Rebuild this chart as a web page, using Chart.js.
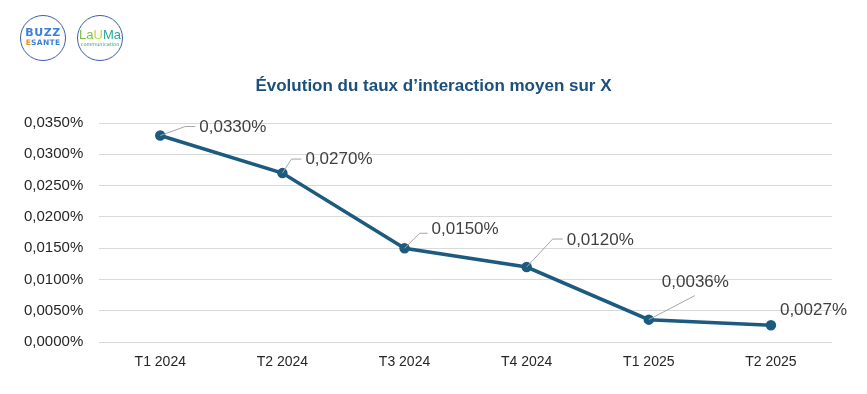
<!DOCTYPE html>
<html>
<head>
<meta charset="utf-8">
<script src="https://cdn.jsdelivr.net/npm/chart.js@4.4.0/dist/chart.umd.min.js"></script>
<style>
  html, body { margin: 0; padding: 0; background: #fff; }
  #wrap { position: relative; width: 867px; height: 394px; }
  canvas { position: absolute; left: 0; top: 0; }
  #titre {
    position: absolute; left: 0; width: 867px; top: 76px; text-align: center;
    font: bold 17px "Liberation Sans", Arial, sans-serif; color: #1b4f7c;
  }
  .logo {
    position: absolute; top: 15px; width: 44px; height: 44px;
    border: 1.5px solid #3b5ea8; border-radius: 50%;
    font-family: "DejaVu Sans", sans-serif; text-align: center; background: #fff;
  }
  .buzz { left: 20px; color: #3c7fd6; font-weight: bold; font-size: 11px; line-height: 11px; }
  .buzz .t1 { margin-top: 11px; letter-spacing: 0.5px; }
  .buzz .t2 { font-size: 7.5px; line-height: 9px; letter-spacing: 0.3px; }
  .buzz .t2 span { color: #f08a24; }
  .lauma { left: 77px; }
  .lauma .t1 { margin-top: 13px; font-size: 13px; line-height: 12px; font-family: "Liberation Sans", sans-serif; }
  .lauma .t2 { font-size: 5px; line-height: 6px; color: #3a9a8a; }
</style>
</head>
<body>
<div id="wrap">
  <canvas id="chart" width="867" height="394"></canvas>
  <div id="titre">Évolution du taux d’interaction moyen sur X</div>
  <div class="logo buzz"><div class="t1">BUZZ</div><div class="t2"><span>E</span>SANTE</div></div>
  <div class="logo lauma"><div class="t1"><span style="color:#7cc242">La</span><span style="color:#c4d82e">U</span><span style="color:#2ba5a0">Ma</span></div><div class="t2">communication</div></div>
</div>
<script>
// Données
const categories = ["T1 2024", "T2 2024", "T3 2024", "T4 2024", "T1 2025", "T2 2025"];
const tauxInteraction = [0.0330, 0.0270, 0.0150, 0.0120, 0.0036, 0.0027];
const yTicks = [0, 0.005, 0.010, 0.015, 0.020, 0.025, 0.030, 0.035];

// Placement des étiquettes (décalage du texte et du coude de la ligne de rappel)
const labelOffsets = [[39, -8], [23, -14], [27, -19], [40, -27], [13, -37], [9, -15]];
const leaderElbows = [[25, -9], [9, -14], [15, -15], [26, -28], [46, -24], null];

const fmt = v => v.toFixed(4).replace(".", ",") + "%";

const labelPlugin = {
  id: "labels",
  afterDatasetsDraw(chart) {
    const ctx = chart.ctx;
    const meta = chart.getDatasetMeta(0);
    ctx.save();
    ctx.font = "17px 'Liberation Sans', Arial, sans-serif";
    ctx.fillStyle = "#404040";
    ctx.textBaseline = "middle";
    meta.data.forEach((pt, i) => {
      const [dx, dy] = labelOffsets[i];
      const lx = pt.x + dx, ly = pt.y + dy;
      const elbow = leaderElbows[i];
      if (elbow) {
        ctx.strokeStyle = "#a6a6a6";
        ctx.lineWidth = 1;
        ctx.beginPath();
        ctx.moveTo(pt.x, pt.y);
        ctx.lineTo(pt.x + elbow[0], pt.y + elbow[1]);
        if (i !== 4) ctx.lineTo(lx - 4, pt.y + elbow[1]);
        ctx.stroke();
      }
      ctx.fillText(fmt(tauxInteraction[i]), lx, ly);
    });
    ctx.restore();
  }
};

new Chart(document.getElementById("chart"), {
  type: "line",
  data: {
    labels: categories,
    datasets: [{
      data: tauxInteraction,
      borderColor: "#1c5b7f",
      backgroundColor: "#1c5b7f",
      borderWidth: 3.5,
      pointRadius: 3.5,
      pointBackgroundColor: "#1c5b7f",
      tension: 0
    }]
  },
  options: {
    responsive: false,
    animation: false,
    layout: { padding: { top: 123, left: 8, right: 35, bottom: 19 } },
    plugins: {
      legend: { display: false },
      tooltip: { enabled: false }
    },
    scales: {
      x: {
        offset: true,
        grid: { display: false },
        border: { display: false },
        ticks: { color: "#262626", padding: 4, font: { family: "'Liberation Sans', Arial, sans-serif", size: 14 } }
      },
      y: {
        min: 0,
        max: 0.035,
        afterBuildTicks: axis => { axis.ticks = yTicks.map(v => ({ value: v })); },
        grid: { color: "#d9d9d9", drawTicks: false },
        border: { display: false },
        ticks: {
          color: "#262626",
          padding: 16,
          font: { family: "'Liberation Sans', Arial, sans-serif", size: 15 },
          callback: v => fmt(v)
        }
      }
    }
  },
  plugins: [labelPlugin]
});
</script>
</body>
</html>
